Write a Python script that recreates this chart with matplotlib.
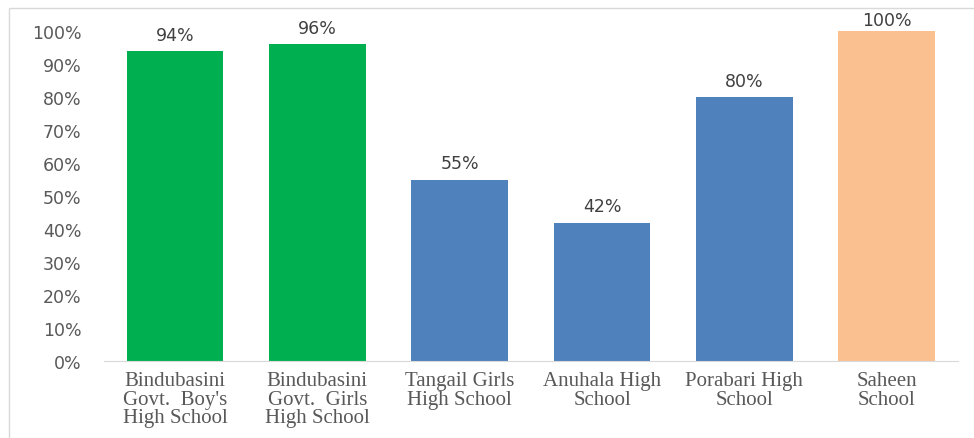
import matplotlib.pyplot as plt
from matplotlib.patches import Rectangle

# Chart data
schools = ["Bindubasini\nGovt.  Boy's\nHigh School",
           "Bindubasini\nGovt.  Girls\nHigh School",
           "Tangail Girls\nHigh School",
           "Anuhala High\nSchool",
           "Porabari High\nSchool",
           "Saheen\nSchool"]
percent = [94, 96, 55, 42, 80, 100]
bar_colors = ["#00B050", "#00B050", "#4F81BD", "#4F81BD", "#4F81BD", "#FAC090"]

fig = plt.figure(figsize=(9.74, 4.39), dpi=100)
ax = fig.add_axes([0.1065, 0.175, 0.877, 0.752])

x = range(len(schools))
ax.bar(x, percent, width=0.68, color=bar_colors)

# Value labels above bars (kept inside the chart at the top)
for i, v in zip(x, percent):
    ax.text(i, min(v + 2.2, 100.6), f"{v}%", ha="center", va="bottom",
            fontsize=12.5, color="#404040")

ax.set_xlim(-0.5, len(schools) - 0.5)
ax.set_ylim(0, 100)
ax.set_yticks(range(0, 101, 10))
ax.set_yticklabels([f"{t}%" for t in range(0, 101, 10)], fontsize=12.5, color="#595959")
ax.set_xticks(list(x))
ax.set_xticklabels(schools, family="Liberation Serif", fontsize=15, color="#595959",
                   linespacing=0.98)
ax.tick_params(axis="both", length=0)
ax.tick_params(axis="y", pad=16)
ax.tick_params(axis="x", pad=7)

for side in ["top", "right", "left"]:
    ax.spines[side].set_visible(False)
ax.spines["bottom"].set_color("#D9D9D9")

# Light border around the chart area
fig.patches.append(Rectangle((0.009, -0.01), 1.0, 0.99, transform=fig.transFigure,
                             fill=False, edgecolor="#D9D9D9", linewidth=1))

plt.savefig("out.png", dpi=100)
